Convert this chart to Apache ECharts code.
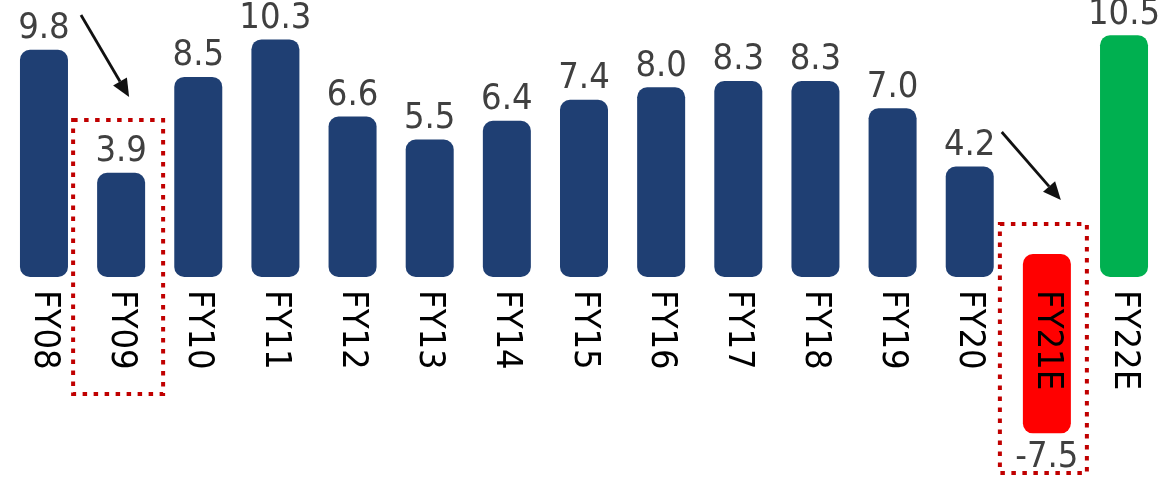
<!DOCTYPE html>
<html>
<head>
<meta charset="utf-8">
<script src="https://cdn.jsdelivr.net/npm/echarts@6/dist/echarts.min.js"></script>
<style>
html,body{margin:0;padding:0;background:#fff;}
#c{width:1173px;height:480px;}
</style>
</head>
<body>
<div id="c"></div>
<script>
// ---- data ----
const categories = ['FY08','FY09','FY10','FY11','FY12','FY13','FY14','FY15','FY16','FY17','FY18','FY19','FY20','FY21E','FY22E'];
const values = [9.8, 3.9, 8.5, 10.3, 6.6, 5.5, 6.4, 7.4, 8.0, 8.3, 8.3, 7.0, 4.2, -7.5, 10.5];

// ---- styling ----
const FONT = "'Liberation Sans Narrow', 'DejaVu Sans Condensed', 'Liberation Sans', sans-serif";
const BLUE = '#1F3F73', RED = '#FF0000', GREEN = '#00B050';
const specialColors = { 'FY21E': RED, 'FY22E': GREEN };
const OFFSET = 1.1;   // visual extension of each bar beyond its origin (as in the reference)
const BAR_W = 48;
const Y_MIN = -10, Y_MAX = 12;

const chart = echarts.init(document.getElementById('c'), null, { renderer: 'canvas' });

function renderItem(params, api) {
  const idx = api.value(0);
  const v = api.value(1);
  const lo = v >= 0 ? -OFFSET : 0;
  const hi = v >= 0 ? v : v - OFFSET;
  const pHi = api.coord([idx, hi]);
  const pLo = api.coord([idx, lo]);
  const y = Math.min(pHi[1], pLo[1]);
  const h = Math.abs(pHi[1] - pLo[1]);
  const cat = categories[idx];
  return {
    type: 'rect',
    shape: { x: pHi[0] - BAR_W / 2, y: y, width: BAR_W, height: h, r: 10 },
    style: { fill: specialColors[cat] || BLUE },
    textContent: {
      style: { text: v.toFixed(1), fill: '#404040', fontSize: 36, fontFamily: FONT }
    },
    textConfig: { position: v >= 0 ? 'top' : 'bottom', distance: v >= 0 ? 3 : 6 }
  };
}

chart.setOption({
  animation: false,
  grid: { left: 5.4, right: 10.4, top: 4, bottom: 17.5, containLabel: false, outerBoundsMode: 'none' },
  xAxis: {
    type: 'category',
    data: categories,
    z: 10,
    position: 'bottom',
    offset: 0,
    axisLine: { show: false, onZero: false },
    axisTick: { show: false },
    axisLabel: { show: true, rotate: -90, margin: 36, fontSize: 36, color: '#000', fontFamily: FONT, interval: 0, hideOverlap: false }
  },
  yAxis: {
    type: 'value', min: Y_MIN, max: Y_MAX, show: false, splitLine: { show: false }
  },
  series: [{
    type: 'custom',
    renderItem: renderItem,
    encode: { x: 0, y: 1 },
    data: values.map((v, i) => [i, v]),
    z: 2
  }]
});

// place the category labels along the zero line
const zy = chart.convertToPixel({ yAxisIndex: 0 }, 0);
const by = chart.convertToPixel({ yAxisIndex: 0 }, Y_MIN);
chart.setOption({ xAxis: { offset: zy - by } });

function arrow(x1, y1, x2, y2) {
  const ang = Math.atan2(y2 - y1, x2 - x1);
  const L = 18, W = 8;
  const bx = x2 - L * Math.cos(ang), by2 = y2 - L * Math.sin(ang);
  const nx = -Math.sin(ang), ny = Math.cos(ang);
  return [
    { type: 'line', shape: { x1: x1, y1: y1, x2: bx, y2: by2 }, style: { stroke: '#111', lineWidth: 2.8 }, z: 20 },
    { type: 'polygon', shape: { points: [[x2, y2], [bx + nx * W, by2 + ny * W], [bx - nx * W, by2 - ny * W]] }, style: { fill: '#111' }, z: 20 }
  ];
}
function box(x1, y1, x2, y2) {
  return { type: 'rect', shape: { x: x1, y: y1, width: x2 - x1, height: y2 - y1 },
    style: { fill: 'none', stroke: '#C00000', lineWidth: 4, lineDash: [4.5, 6.5] }, z: 20 };
}

const cx = c => chart.convertToPixel({ xAxisIndex: 0 }, c);
const g = [];
g.push(box(cx('FY09') - 48, zy - 134, cx('FY09') + 42, zy + 140));
g.push(box(cx('FY21E') - 47, zy - 30, cx('FY21E') + 40, zy + 219));
g.push(...arrow(cx('FY08') + 37, 15, cx('FY09') + 8, 97));
g.push(...arrow(cx('FY20') + 32, 132, cx('FY21E') + 14, 200));
chart.setOption({ graphic: g });
</script>
</body>
</html>
